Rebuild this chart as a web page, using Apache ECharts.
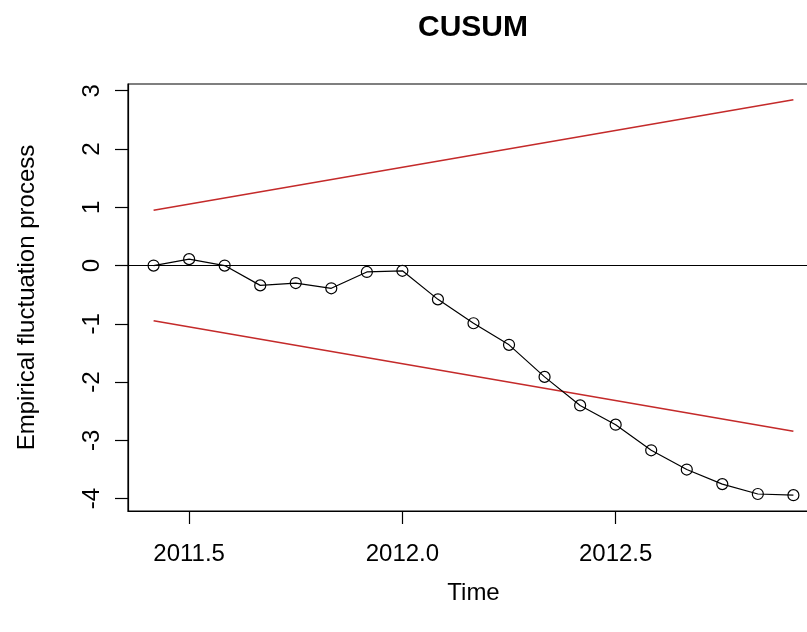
<!DOCTYPE html>
<html>
<head>
<meta charset="utf-8">
<script src="https://cdn.jsdelivr.net/npm/echarts@6/dist/echarts.min.js"></script>
<style>
html,body{margin:0;padding:0;background:#fff;overflow:hidden;}
#chart{width:819px;height:632px;}
</style>
</head>
<body>
<div id="chart"></div>
<script>
// Time points (monthly)
const times = [2011.4167, 2011.5, 2011.5833, 2011.6667, 2011.75, 2011.8333, 2011.9167, 2012.0,
  2012.0833, 2012.1667, 2012.25, 2012.3333, 2012.4167, 2012.5, 2012.5833, 2012.6667, 2012.75, 2012.8333, 2012.9167];
// Empirical fluctuation process (CUSUM)
const cusum = [0.00, 0.11, 0.00, -0.34, -0.30, -0.39, -0.11, -0.09,
  -0.58, -0.99, -1.36, -1.91, -2.40, -2.73, -3.17, -3.50, -3.75, -3.92, -3.94];
// Boundaries
const boundTimes = [2011.4167, 2012.9167];
const upperBound = [0.948, 2.844];
const lowerBound = [-0.948, -2.844];
// Tick labels
const xTicks = [2011.5, 2012.0, 2012.5];
const yTicks = [-4, -3, -2, -1, 0, 1, 2, 3];

// R-style 4% axis extension
const xlo = Math.min(...times), xhi = Math.max(...times);
const allY = cusum.concat(upperBound, lowerBound);
const ylo = Math.min(...allY), yhi = Math.max(...allY);
const xext = 0.04 * (xhi - xlo), yext = 0.04 * (yhi - ylo);

const font = 'Liberation Sans, Arial, sans-serif';
const chart = echarts.init(document.getElementById('chart'));
chart.setOption({
  animation: false,
  backgroundColor: '#fff',
  title: {
    text: 'CUSUM', left: 468, top: 8, textAlign: 'center',
    textStyle: {fontFamily: font, fontWeight: 'bold', fontSize: 30, color: '#000'}
  },
  grid: {left: 128, right: 0, top: 84, bottom: 121, show: true, borderColor: '#000', borderWidth: 1.2},
  xAxis: {
    type: 'value', min: xlo - xext, max: xhi + xext,
    name: 'Time', nameLocation: 'middle', nameGap: 70,
    nameTextStyle: {fontFamily: font, fontSize: 24, color: '#000'},
    axisLine: {show: true, onZero: false, lineStyle: {color: '#000', width: 1.2}},
    axisTick: {show: true, length: 13, customValues: xTicks, lineStyle: {color: '#000', width: 1.2}},
    axisLabel: {customValues: xTicks, margin: 31, fontFamily: font, fontSize: 24, color: '#000',
      formatter: v => v.toFixed(1)},
    splitLine: {show: false}
  },
  yAxis: {
    type: 'value', min: ylo - yext, max: yhi + yext,
    name: 'Empirical fluctuation process', nameLocation: 'middle', nameGap: 89, nameRotate: 90,
    nameTextStyle: {fontFamily: font, fontSize: 24, color: '#000'},
    axisLine: {show: true, onZero: false, lineStyle: {color: '#000', width: 1.2}},
    axisTick: {show: true, length: 13, customValues: yTicks, lineStyle: {color: '#000', width: 1.2}},
    axisLabel: {customValues: yTicks, rotate: 90, margin: 24, fontFamily: font, fontSize: 24, color: '#000',
      formatter: v => String(v)},
    splitLine: {show: false}
  },
  series: [
    {
      type: 'line', name: 'upper', data: boundTimes.map((t, i) => [t, upperBound[i]]),
      symbol: 'none', lineStyle: {color: '#c42a2a', width: 1.5}, silent: true,
      markLine: {silent: true, symbol: 'none', label: {show: false},
        lineStyle: {color: '#000', width: 1.2, type: 'solid'}, data: [{yAxis: 0}]}
    },
    {
      type: 'line', name: 'lower', data: boundTimes.map((t, i) => [t, lowerBound[i]]),
      symbol: 'none', lineStyle: {color: '#c42a2a', width: 1.5}, silent: true
    },
    {
      type: 'line', name: 'cusum', data: times.map((t, i) => [t, cusum[i]]),
      symbol: 'circle', symbolSize: 11, showAllSymbol: true,
      lineStyle: {color: '#000', width: 1.2},
      itemStyle: {color: 'rgba(0,0,0,0)', borderColor: '#000', borderWidth: 1.2}
    }
  ]
});
</script>
</body>
</html>
